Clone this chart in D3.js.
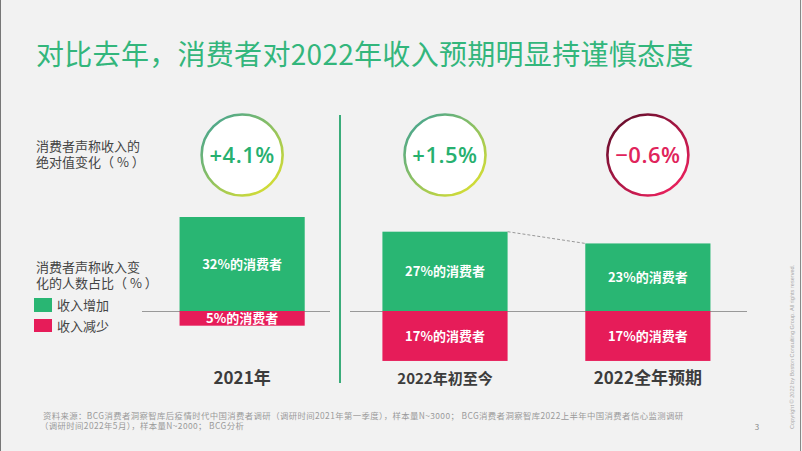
<!DOCTYPE html>
<html><head><meta charset="utf-8">
<script src="https://cdn.jsdelivr.net/npm/d3@7"></script>
<style>
html,body{margin:0;padding:0;background:#f2f2f2;}
svg{display:block;font-family:"Noto Sans CJK SC","Noto Sans",sans-serif;}
</style></head>
<body>
<svg id="c" width="802" height="451"></svg>
<script>
const categories = ["2021年", "2022年初至今", "2022全年预期"];
const increaseShare = [32, 27, 23];
const decreaseShare = [5, 17, 17];
const netChange = [4.1, 1.5, -0.6];
const categoryFontSize = [17, 15, 17];
const titleText = "对比去年，消费者对2022年收入预期明显持谨慎态度";
const footnoteLines = [
  "资料来源：BCG消费者洞察智库后疫情时代中国消费者调研（调研时间2021年第一季度），样本量N~3000；  BCG消费者洞察智库2022上半年中国消费者信心监测调研",
  "（调研时间2022年5月），样本量N~2000；  BCG分析"
];

const GREEN = "#29b673", RED = "#e61c59", TXT = "#444";
const svg = d3.select("#c");

svg.append("rect").attr("width", 802).attr("height", 451).attr("fill", "#f2f2f2");
svg.append("line").attr("x1", 0.5).attr("x2", 0.5).attr("y1", 0).attr("y2", 451).attr("stroke", "#777");
svg.append("line").attr("x1", 800.5).attr("x2", 800.5).attr("y1", 0).attr("y2", 451).attr("stroke", "#888");

// title
svg.append("text").attr("x", 36).attr("y", 65).attr("font-size", 28).attr("letter-spacing", 0.3).attr("fill", "#33b67c").text(titleText);

// scales
const x = d3.scaleBand().domain(categories).range([141, 749]).paddingInner(0.383).paddingOuter(0.19);
const y = d3.scaleLinear().domain([0, 32]).range([311, 217]);

// gradients
const defs = svg.append("defs");
function grad(id, c1, c2) {
  const g = defs.append("linearGradient").attr("id", id).attr("x1", "15%").attr("y1", "10%").attr("x2", "85%").attr("y2", "90%");
  g.append("stop").attr("offset", "0%").attr("stop-color", c1);
  g.append("stop").attr("offset", "100%").attr("stop-color", c2);
}
grad("gPos", "#4fa88a", "#d2dc36");
grad("gNeg", "#6b0f2e", "#e8205c");

// separator
svg.append("line").attr("x1", 340).attr("x2", 340).attr("y1", 115).attr("y2", 383).attr("stroke", "#3aac7a").attr("stroke-width", 2);

// zero lines
svg.append("line").attr("x1", 142).attr("x2", 330).attr("y1", y(0) + 0.5).attr("y2", y(0) + 0.5).attr("stroke", "#999");
svg.append("line").attr("x1", 350).attr("x2", 747).attr("y1", y(0) + 0.5).attr("y2", y(0) + 0.5).attr("stroke", "#999");

// bars
const bw = x.bandwidth();
categories.forEach((c, i) => {
  const x0 = x(c), cx = x0 + bw / 2;
  svg.append("rect").attr("x", x0).attr("y", y(increaseShare[i])).attr("width", bw).attr("height", y(0) - y(increaseShare[i])).attr("fill", GREEN);
  svg.append("rect").attr("x", x0).attr("y", y(0)).attr("width", bw).attr("height", y(-decreaseShare[i]) - y(0)).attr("fill", RED);
  svg.append("text").attr("x", cx).attr("y", (y(increaseShare[i]) + y(0)) / 2).attr("dy", "0.36em")
    .attr("text-anchor", "middle").attr("font-size", 13).attr("font-weight", 700).attr("fill", "#fff")
    .text(increaseShare[i] + "%的消费者");
  svg.append("text").attr("x", cx).attr("y", (y(-decreaseShare[i]) + y(0)) / 2).attr("dy", "0.36em")
    .attr("text-anchor", "middle").attr("font-size", 13).attr("font-weight", 700).attr("fill", "#fff")
    .text(decreaseShare[i] + "%的消费者");
  // category label
  svg.append("text").attr("x", cx).attr("y", 384).attr("text-anchor", "middle")
    .attr("font-size", categoryFontSize[i]).attr("font-weight", 700).attr("fill", "#3c3c3c").text(c);
  // circles
  const neg = netChange[i] < 0;
  svg.append("circle").attr("cx", cx).attr("cy", 155).attr("r", 40.5).attr("fill", "#fff")
    .attr("stroke", neg ? "url(#gNeg)" : "url(#gPos)").attr("stroke-width", 2.6);
  svg.append("text").attr("x", cx).attr("y", 155).attr("dy", "0.36em").attr("text-anchor", "middle")
    .attr("font-family", "'Open Sans',sans-serif").attr("font-size", 22).attr("font-weight", 600)
    .attr("letter-spacing", 0.5)
    .attr("fill", neg ? "#e0245b" : "#27b06f")
    .text((neg ? "" : "+") + d3.format(".1f")(netChange[i]) + "%");
});

// dashed connector between bar 2 and 3
const c2 = categories[1], c3 = categories[2];
svg.append("line").attr("x1", x(c2) + bw).attr("y1", y(increaseShare[1])).attr("x2", x(c3)).attr("y2", y(increaseShare[2]))
  .attr("stroke", "#999").attr("stroke-dasharray", "3,2");

// multi-line text helper (one text element, tspans per line)
function multi(lines, xx, yy, lh, attrs) {
  const t = svg.append("text").attr("x", xx).attr("y", yy);
  Object.entries(attrs).forEach(([k, v]) => t.attr(k, v));
  lines.forEach((l, i) => t.append("tspan").attr("x", xx).attr("dy", i === 0 ? 0 : lh).text(l));
  return t;
}

// left labels
multi(["消费者声称收入的", "绝对值变化（ % ）"], 36, 151, 16, {"font-size": 13, fill: TXT});
multi(["消费者声称收入变", "化的人数占比（ % ）"], 36, 272, 16, {"font-size": 13, fill: TXT});
svg.append("rect").attr("x", 34).attr("y", 298).attr("width", 18).attr("height", 14).attr("fill", GREEN);
svg.append("rect").attr("x", 34).attr("y", 319).attr("width", 18).attr("height", 13).attr("fill", RED);
multi(["收入增加", "收入减少"], 57, 310, 21, {"font-size": 13, fill: TXT});

// footnotes
const fn = svg.append("text").attr("y", 419).attr("font-size", 8.4).attr("letter-spacing", 0.4).attr("fill", "#9a9a9a");
footnoteLines.forEach((t, i) => {
  fn.append("tspan").attr("x", i === 0 ? 43 : 40).attr("dy", i === 0 ? 0 : 10).text(t);
});
svg.append("text").attr("x", 757).attr("y", 430).attr("text-anchor", "middle").attr("font-size", 8).attr("fill", "#888").text("3");

// copyright
svg.append("text").attr("transform", "translate(794,429) rotate(-90)").attr("font-size", 5.6).attr("fill", "#aaa")
  .attr("font-family", "'Liberation Sans',sans-serif")
  .text("Copyright © 2022 by Boston Consulting Group. All rights reserved.");
</script>
</body></html>
